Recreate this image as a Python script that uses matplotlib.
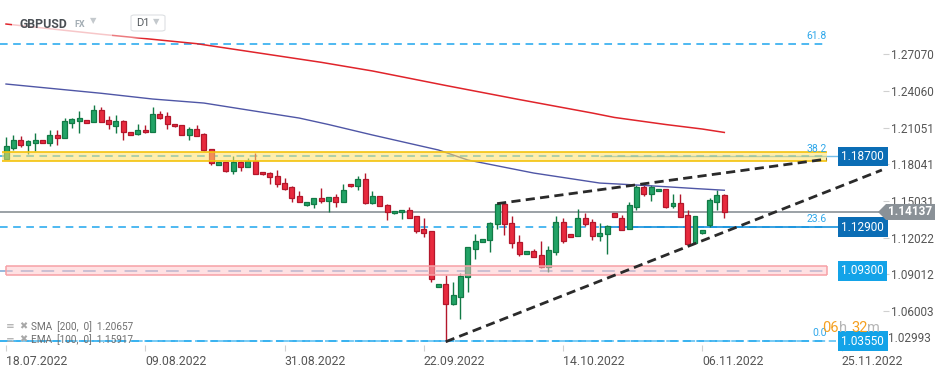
import numpy as np
import matplotlib.pyplot as plt
import matplotlib.transforms as mtransforms
from matplotlib.patches import Rectangle, Polygon, FancyBboxPatch

plt.rcParams['font.family'] = ['Roboto', 'DejaVu Sans']

# GBPUSD D1, one bar per day incl. the short sunday bars
opens = [1.1852, 1.1941, 1.2002, 1.1965, 1.1983, 1.2002, 1.1983, 1.2043, 1.2023, 1.2146,
         1.2162, 1.2168, 1.2154, 1.2250, 1.2168, 1.2121, 1.2160, 1.2067, 1.2056, 1.2086,
         1.2067, 1.2215, 1.2199, 1.2133, 1.2127, 1.2043, 1.2092, 1.2053, 1.1928, 1.1803,
         1.1821, 1.1752, 1.1826, 1.1785, 1.1834, 1.1742, 1.1731, 1.1709, 1.1651, 1.1619,
         1.1545, 1.1469, 1.1482, 1.1528, 1.1506, 1.1534, 1.1493, 1.1641, 1.1624, 1.1682,
         1.1485, 1.1542, 1.1471, 1.1403, 1.1411, 1.1428, 1.1378, 1.1272, 1.1258, 1.0796,
         1.0821, 1.0662, 1.0719, 1.0878, 1.1113, 1.1165, 1.1182, 1.1313, 1.1477, 1.1321,
         1.1165, 1.1072, 1.1091, 1.1061, 1.0965, 1.1088, 1.1329, 1.1231, 1.1214, 1.1362,
         1.1329, 1.1214, 1.1231, 1.1403, 1.1362, 1.1274, 1.1457, 1.1621, 1.1559, 1.1586,
         1.1602, 1.1460, 1.1485, 1.1389, 1.1159, 1.1238, 1.1307, 1.1498, 1.1553]
highs = [1.2029, 1.2045, 1.2034, 1.2004, 1.2061, 1.2008, 1.2086, 1.2086, 1.2182, 1.2187,
         1.2244, 1.2172, 1.2291, 1.2275, 1.2201, 1.2209, 1.2168, 1.2070, 1.2135, 1.2127,
         1.2272, 1.2242, 1.2236, 1.2135, 1.2129, 1.2113, 1.2127, 1.2059, 1.1930, 1.1824,
         1.1824, 1.1873, 1.1832, 1.1859, 1.1900, 1.1742, 1.1744, 1.1758, 1.1690, 1.1623,
         1.1586, 1.1498, 1.1528, 1.1610, 1.1537, 1.1561, 1.1643, 1.1643, 1.1709, 1.1733,
         1.1586, 1.1545, 1.1482, 1.1422, 1.1430, 1.1455, 1.1381, 1.1364, 1.1260, 1.0823,
         1.0899, 1.0840, 1.0911, 1.1127, 1.1233, 1.1192, 1.1332, 1.1482, 1.1482, 1.1381,
         1.1223, 1.1094, 1.1110, 1.1176, 1.1135, 1.1381, 1.1362, 1.1233, 1.1438, 1.1408,
         1.1356, 1.1326, 1.1307, 1.1405, 1.1389, 1.1493, 1.1635, 1.1635, 1.1635, 1.1605,
         1.1605, 1.1564, 1.1561, 1.1428, 1.1381, 1.1268, 1.1531, 1.1596, 1.1561]
lows = [1.1848, 1.1926, 1.1949, 1.1892, 1.1916, 1.1979, 1.1957, 1.1965, 1.2020, 1.2105,
        1.2064, 1.2143, 1.2152, 1.2152, 1.2094, 1.2064, 1.2007, 1.2045, 1.2045, 1.2061,
        1.2066, 1.2176, 1.2097, 1.2113, 1.2045, 1.2004, 1.2037, 1.1914, 1.1795, 1.1799,
        1.1744, 1.1723, 1.1752, 1.1783, 1.1725, 1.1721, 1.1643, 1.1621, 1.1594, 1.1498,
        1.1496, 1.1465, 1.1444, 1.1490, 1.1416, 1.1457, 1.1492, 1.1619, 1.1596, 1.1483,
        1.1483, 1.1459, 1.1350, 1.1401, 1.1359, 1.1364, 1.1239, 1.1211, 1.0842, 1.0795,
        1.0350, 1.0649, 1.0539, 1.0760, 1.1026, 1.1164, 1.1088, 1.1274, 1.1225, 1.1116,
        1.1055, 1.1069, 1.1045, 1.0957, 1.0924, 1.1061, 1.1157, 1.1209, 1.1213, 1.1301,
        1.1184, 1.1173, 1.1067, 1.1373, 1.1266, 1.1272, 1.1430, 1.1547, 1.1504, 1.1583,
        1.1449, 1.1449, 1.1373, 1.1151, 1.1157, 1.1236, 1.1293, 1.1430, 1.1362]
closes = [1.1955, 1.2004, 1.1965, 1.1993, 1.2002, 1.1983, 1.2043, 1.2023, 1.2160, 1.2176,
          1.2184, 1.2146, 1.2250, 1.2154, 1.2133, 1.2160, 1.2067, 1.2047, 1.2083, 1.2067,
          1.2215, 1.2187, 1.2133, 1.2116, 1.2047, 1.2092, 1.2039, 1.1920, 1.1818, 1.1821,
          1.1752, 1.1826, 1.1785, 1.1834, 1.1728, 1.1723, 1.1698, 1.1646, 1.1605, 1.1531,
          1.1498, 1.1496, 1.1526, 1.1506, 1.1534, 1.1493, 1.1592, 1.1624, 1.1682, 1.1485,
          1.1545, 1.1460, 1.1416, 1.1419, 1.1428, 1.1367, 1.1260, 1.1244, 1.0862, 1.0821,
          1.0662, 1.0731, 1.0886, 1.1124, 1.1173, 1.1190, 1.1326, 1.1477, 1.1313, 1.1157,
          1.1072, 1.1091, 1.1047, 1.0965, 1.1100, 1.1329, 1.1178, 1.1211, 1.1362, 1.1318,
          1.1214, 1.1239, 1.1301, 1.1375, 1.1268, 1.1471, 1.1621, 1.1559, 1.1621, 1.1602,
          1.1455, 1.1485, 1.1375, 1.1154, 1.1378, 1.1265, 1.1512, 1.1553, 1.14137]

# moving averages (at some bars)
sma_idx = [0, 13, 26, 43, 50, 60, 70, 80, 83, 90, 95, 98]
sma_val = [1.2955, 1.2871, 1.2794, 1.2641, 1.2570, 1.2451, 1.2336, 1.2225, 1.2189, 1.2131, 1.2094, 1.2066]
ema_idx = [0, 13, 20, 27, 33, 40, 44, 50, 59, 63, 72, 81, 86, 90, 94, 98]
ema_val = [1.2463, 1.2387, 1.2340, 1.2307, 1.2250, 1.2184, 1.2131, 1.2045, 1.1922, 1.1840,
           1.1733, 1.1651, 1.1635, 1.1621, 1.1606, 1.1592]

# drawings
fib_levels = [1.2794, 1.1870, 1.1290, 1.0355]
fib_names = ['61.8', '38.2', '23.6', '0.0']
fib_end = 112
levels = [1.18700, 1.12900, 1.09300, 1.03550]
level_colors = ['#0b6db5', '#0b6db5', '#13a3e8', '#13a3e8']
yellow_zone = (1.1828, 1.1906)
pink_zone = (1.0893, 1.0971)
trend_upper = [(67, 1.1482), (112, 1.1848)]
trend_lower = [(60, 1.0350), (119.5, 1.1758)]
current = 1.14137

price_ticks = [1.27070, 1.24060, 1.21051, 1.18041, 1.15031, 1.12022, 1.09012, 1.06003]
date_pos = [0, 19, 38, 57, 76, 95, 114]
date_labels = ['18.07.2022', '09.08.2022', '31.08.2022', '22.09.2022',
               '14.10.2022', '06.11.2022', '25.11.2022']

W, H = 949, 373
fig = plt.figure(figsize=(W / 100, H / 100), dpi=100)
ax = fig.add_axes([0, 1 - 345 / H, 883 / W, 345 / H])
ax.set_xlim(-0.82, 119.65)
ax.set_ylim(1.0323, 1.3152)


def px(x, y):
    return x / W, 1 - y / H


o = np.array(opens)
h = np.array(highs)
l = np.array(lows)
c = np.array(closes)
x = np.arange(len(o))
up = c >= o
fill = np.where(up, '#22a366', '#e82a3e')
edge = np.where(up, '#127a46', '#b3172b')
ax.vlines(x, l, h, colors=edge, lw=1, zorder=3)
body = np.maximum(np.abs(c - o), 0.0004)
ax.bar(x, body, bottom=np.minimum(o, c), width=0.68, color=fill, edgecolor=edge,
       linewidth=0.9, zorder=4)

ax.plot(sma_idx, sma_val, color='#e0242b', lw=1.1, zorder=3)
ax.plot(ema_idx, ema_val, color='#4f56a6', lw=1.0, zorder=3)

x0 = ax.get_xlim()[0]
# fibo lines
for lv in fib_levels:
    ax.hlines(lv, x0, fib_end, colors='#1ea5ee', lw=1.1, linestyles=(0, (5, 3.6)), zorder=2)
for lv, name in zip(fib_levels, fib_names):
    ax.annotate(name, (fib_end, lv), xytext=(0, 2), textcoords='offset points',
                ha='right', va='bottom', fontsize=7.5, color='#2ea7ea', zorder=8)

# horizontal levels
ax.hlines(levels[1], 81, 116, colors='#1691dc', lw=1.2, zorder=2)
ax.hlines(levels[0], 81, 116, colors='#1691dc', lw=1.0, zorder=2, alpha=0.6)
ax.hlines(levels[2], x0, fib_end, colors='#8fb3da', lw=1.3, linestyles=(0, (7, 4.5)), zorder=2)
ax.hlines(levels[3], x0, 113.3, colors='#2fb0f0', lw=1.3, linestyles=(0, (7, 2)), zorder=2, alpha=0.7)

# zones (drawn above candles, translucent)
ax.add_patch(Rectangle((-0.55, yellow_zone[0]), fib_end + 0.55, yellow_zone[1] - yellow_zone[0],
                       facecolor='#ffe16b', alpha=0.55, edgecolor='none', zorder=5))
ax.hlines(yellow_zone, -0.55, fib_end, colors='#f4c20d', lw=1.2, zorder=5)
ax.add_patch(Rectangle((0, pink_zone[0]), fib_end, pink_zone[1] - pink_zone[0],
                       facecolor='#ffc4c8', alpha=0.5, edgecolor='none', zorder=5))
ax.hlines(pink_zone, 0, fib_end, colors='#f6a0a6', lw=1.1, zorder=5)
ax.vlines([0, fib_end], pink_zone[0], pink_zone[1], colors='#f6a0a6', lw=1.1, zorder=5)

# current price line
ax.axhline(current, color='#8a9197', lw=1.2, zorder=2.5)

# trend lines
for tl in (trend_upper, trend_lower):
    tx, ty = zip(*tl)
    ax.plot(tx, ty, color='#2a2a2a', lw=2.0, linestyle=(0, (3.3, 1.9)), zorder=6,
            clip_on=False, solid_capstyle='butt')

# level labels on the right
trans = mtransforms.blended_transform_factory(ax.transAxes, ax.transData)
for lv, col in zip(levels, level_colors):
    ax.text(841.5 / 883, lv, f'{lv:.5f}', transform=trans, ha='left', va='center',
            fontsize=8.5, color='white', clip_on=False, zorder=10,
            bbox=dict(boxstyle='square,pad=0.28', fc=col, ec='none'))

# current price tag
dy = 8 * (ax.get_ylim()[1] - ax.get_ylim()[0]) / 345
ax.add_patch(Polygon([(878 / 883, current), (886 / 883, current + dy), (935 / 883, current + dy),
                      (935 / 883, current - dy), (886 / 883, current - dy)],
                     closed=True, transform=trans, facecolor='#8a9197', edgecolor='none',
                     clip_on=False, zorder=10))
ax.text(910.5 / 883, current, f'{current:.5f}', transform=trans, ha='center', va='center',
        fontsize=8.5, fontweight='bold', color='white', clip_on=False, zorder=11)

# axes
ax.yaxis.tick_right()
ax.set_yticks(price_ticks)
ax.set_yticklabels([f'{t:.5f}' for t in price_ticks])
ax.tick_params(axis='y', length=4, width=0.8, color='#d0d0d0', pad=2,
               labelsize=8.5, labelcolor='#555555')
ax.text(1.0057, 0.0, '1.02993', transform=ax.transAxes, ha='left', va='bottom',
        fontsize=8.5, color='#555555')
ax.set_xticks(date_pos)
ax.set_xticklabels(date_labels, ha='left')
ax.tick_params(axis='x', length=4, width=0.8, color='#d0d0d0', pad=3,
               labelsize=8.8, labelcolor='#555555')
for s in ax.spines.values():
    s.set_visible(False)

# header fade over the sma
ax.add_patch(Rectangle(px(12, 38), 100 / W, 28 / H, transform=fig.transFigure,
                       facecolor='white', alpha=0.75, edgecolor='none', zorder=7))
ax.add_patch(Rectangle(px(112, 38), 90 / W, 28 / H, transform=fig.transFigure,
                       facecolor='white', alpha=0.4, edgecolor='none', zorder=7))
fig.text(*px(20, 24), 'GBPUSD', fontsize=8.8, fontweight='bold', color='#4a4f54', va='center')
fig.text(*px(74, 24.5), 'FX', fontsize=6.5, fontweight='bold', color='#a3adb4', va='center')
fig.text(*px(90, 21), '▼', fontsize=6, color='#c4c9cd', va='center')
fig.patches.append(FancyBboxPatch(px(131, 31), 34 / W, 16 / H, boxstyle='round,pad=0,rounding_size=0.004',
                                  transform=fig.transFigure, facecolor='white', edgecolor='#dde0e3',
                                  lw=0.8))
fig.text(*px(136, 23.5), 'D1', fontsize=8, color='#555a5f', va='center')
fig.text(*px(153, 22), '▼', fontsize=6, color='#c4c9cd', va='center')

# indicator legend
fig.text(*px(6, 326.5), '≡', fontsize=7.5, color='#a8a8a8', va='center')
fig.text(*px(19, 326.5), '✖', fontsize=7, color='#a8a8a8', va='center')
fig.text(*px(31, 327), 'SMA  [200,  0]  1.20657', fontsize=7.2, color='#6f6f6f', va='center')
fig.text(*px(6, 339.5), '≡', fontsize=7.5, color='#a8a8a8', va='center')
fig.text(*px(19, 339.5), '✖', fontsize=7, color='#a8a8a8', va='center')
fig.text(*px(31, 340), 'EMA  [100,  0]  1.15917', fontsize=7.2, color='#6f6f6f', va='center')

# countdown
fig.text(*px(822.5, 328.5), '06', fontsize=10.5, color='#f5a020', va='center')
fig.text(*px(839, 328.5), 'h', fontsize=10.5, color='#b5b5b5', va='center')
fig.text(*px(851, 328.5), '32', fontsize=10.5, color='#f5a020', va='center')
fig.text(*px(867.5, 328.5), 'm', fontsize=10.5, color='#b5b5b5', va='center')

fig.savefig('out.png', dpi=100, facecolor='white')
